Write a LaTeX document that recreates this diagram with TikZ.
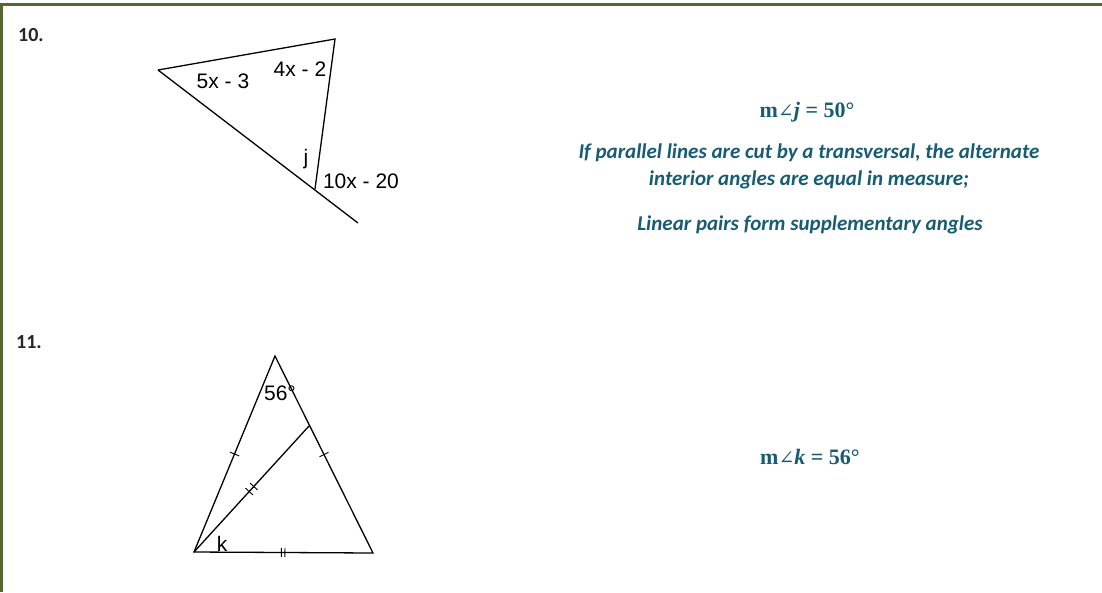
\documentclass[tikz,border=0pt]{standalone}
\usepackage{fontspec}
\setmainfont{Carlito}
\newfontfamily\arialf{Liberation Sans}
\newfontfamily\libserif{Liberation Serif}
\newfontfamily\dvs{DejaVu Serif}
\usetikzlibrary{calc}
\definecolor{frame}{RGB}{84,104,48}
\definecolor{teal}{RGB}{24,92,116}
\newcommand{\angsym}{{\dvs\mdseries\fontsize{19}{24}\selectfont ∠}}
\tikzset{
  fig/.style={line width=1.3pt, black},
  lbl/.style={inner sep=0pt, font=\arialf\fontsize{21}{24}\selectfont},
  num/.style={inner sep=0pt, font=\bfseries\fontsize{20}{24}\selectfont, text=black!85},
  ans/.style={inner sep=0pt, text=teal, font=\libserif\bfseries\fontsize{22}{24}\selectfont},
  reason/.style={inner sep=0pt, text=teal, align=center, font=\bfseries\itshape\fontsize{21}{27}\selectfont},
  tick/.style={line width=0.9pt}
}
\begin{document}
\begin{tikzpicture}[x=1pt,y=-1pt]
\useasboundingbox (0,0) rectangle (1102,592);
\fill[white] (0,0) rectangle (1102,592);
% frame
\fill[frame] (0,3) rectangle (1102,6);
\fill[frame] (0,3) rectangle (2.7,592);

% problem 10
\node[num] (n10) at (31,35) {10.};
\coordinate (A) at (158,70);
\coordinate (B) at (335,39);
\coordinate (C) at (315,189);
\coordinate (E) at (358,223);
\draw[fig] (A) -- (B) -- (C);
\draw[fig] (A) -- (E);
\node[lbl] (l5x) at (223,81) {5x - 3};
\node[lbl] (l4x) at (300,69) {4x - 2};
\node[lbl] (lj) at (306,159) {j};
\node[lbl] (l10x) at (361,181) {10x - 20};

\node[ans] (aj) at (807,112) {m\angsym\textit{j} = 50°};
\node[reason] (r1) at (809,166) {If parallel lines are cut by a transversal, the alternate\\interior angles are equal in measure;};
\node[reason] (r2) at (810,225) {Linear pairs form supplementary angles};

% problem 11
\node[num] (n11) at (29,342) {11.};
\coordinate (P) at (275,356);
\coordinate (Q) at (194,552);
\coordinate (R) at (373,553);
\coordinate (S) at (309,426);
\draw[fig] (P) -- (Q) -- (R) -- cycle;
\draw[fig] (Q) -- (S);
% ticks
\coordinate (m1) at ($(P)!0.5!(Q)$);
\draw[tick] ($(m1)!5pt!90:(Q)$) -- ($(m1)!5pt!-90:(Q)$);
\coordinate (m2) at ($(P)!0.5!(R)$);
\draw[tick] ($(m2)!5pt!90:(R)$) -- ($(m2)!5pt!-90:(R)$);
\coordinate (m3a) at ($(Q)!0.48!(S)$);
\coordinate (m3b) at ($(Q)!0.52!(S)$);
\draw[tick] ($(m3a)!5pt!90:(S)$) -- ($(m3a)!5pt!-90:(S)$);
\draw[tick] ($(m3b)!5pt!90:(S)$) -- ($(m3b)!5pt!-90:(S)$);
\coordinate (m4a) at ($(Q)!0.488!(R)$);
\coordinate (m4b) at ($(Q)!0.508!(R)$);
\draw[tick] ($(m4a)!4.5pt!90:(R)$) -- ($(m4a)!4.5pt!-90:(R)$);
\draw[tick] ($(m4b)!4.5pt!90:(R)$) -- ($(m4b)!4.5pt!-90:(R)$);
\node[lbl] (l56) at (280,393) {56°};
\node[lbl] (lk) at (222,544) {k};

\node[ans] (ak) at (810,457) {m\angsym\textit{k} = 56°};
\end{tikzpicture}
\end{document}
